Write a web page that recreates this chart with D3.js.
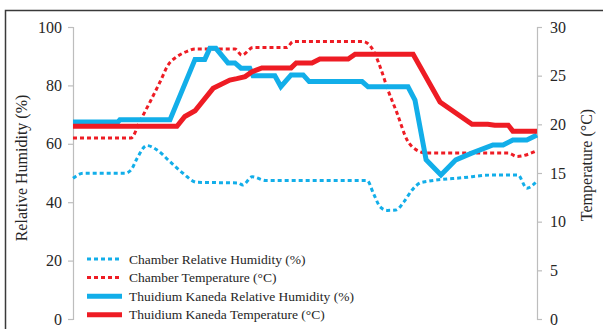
<!DOCTYPE html>
<html>
<head>
<meta charset="utf-8">
<script src="https://cdn.jsdelivr.net/npm/d3@7"></script>
<style>
  html, body { margin: 0; padding: 0; background: #fff; }
  svg { display: block; }
  text { font-family: "Liberation Serif", "Times New Roman", serif; fill: #262626; }
</style>
</head>
<body>
<svg id="chart" width="603" height="329"></svg>
<script>
// Elapsed time (0–100 % of the run) paired with the measured readings.
const chamberRHTime = [0, 2.2, 11.2, 12.5, 13.8, 15.9, 18.1, 20.9, 23.7, 26.7, 35.6, 36.6, 38.6, 41.6, 63.4, 64.7, 66.2, 67.7, 69.6, 71.3, 73.1, 74.8, 76.3, 84.1, 90.5, 95.9, 97.8, 100];
const chamberRH     = [48.2, 49.9, 49.9, 51.0, 55.0, 59.4, 57.9, 53.9, 49.9, 46.8, 46.6, 45.9, 48.7, 47.4, 47.4, 43.2, 38.4, 37.2, 37.3, 40.1, 44.2, 46.6, 47.1, 48.4, 49.3, 49.3, 44.8, 47.3];

const chamberTempTime = [0, 12.5, 14.4, 16.6, 18.8, 20.5, 22.4, 24.6, 26.3, 34.9, 36.4, 38.8, 46.1, 47.4, 62.5, 64.7, 66.2, 67.9, 69.8, 72.0, 73.9, 76.3, 93.8, 95.7, 100];
const chamberTemp     = [18.6, 18.6, 20.3, 22.3, 24.4, 26.1, 26.95, 27.5, 27.75, 27.75, 27.1, 27.9, 27.9, 28.5, 28.5, 27.6, 25.9, 23.5, 21.2, 18.4, 17.4, 17.05, 17.05, 16.7, 17.3];

const mossRHTime = [0, 9.7, 10.1, 20.9, 26.3, 28.4, 29.5, 30.8, 33.4, 34.9, 36.2, 38.1, 38.8, 43.5, 44.8, 47.0, 49.6, 50.9, 62.3, 63.6, 72.2, 73.7, 76.1, 79.3, 82.5, 85.8, 90.5, 92.7, 94.8, 97.8, 100];
const mossRH     = [67.5, 67.5, 68.2, 68.2, 88.9, 88.9, 92.7, 92.7, 87.7, 87.7, 85.9, 85.9, 83.3, 83.3, 79.6, 83.6, 83.6, 81.3, 81.3, 79.5, 79.5, 75.0, 54.5, 49.3, 54.5, 56.7, 59.6, 59.6, 61.3, 61.3, 63.0];

const mossTempTime = [0, 22.4, 24.1, 26.3, 30.2, 33.8, 35.3, 37.1, 38.6, 40.7, 47.0, 48.1, 51.5, 53.2, 59.3, 60.8, 73.3, 79.1, 86.0, 89.4, 90.9, 93.8, 94.8, 100];
const mossTemp     = [19.8, 19.8, 20.8, 21.4, 23.7, 24.55, 24.7, 24.9, 25.4, 25.8, 25.8, 26.3, 26.3, 26.7, 26.7, 27.2, 27.2, 22.3, 20.0, 20.0, 19.9, 19.9, 19.3, 19.3];

const rhTicks   = [0, 20, 40, 60, 80, 100];
const tempTicks = [0, 5, 10, 15, 20, 25, 30];

const seriesNames = [
  "Chamber Relative Humidity (%)",
  "Chamber Temperature (°C)",
  "Thuidium Kaneda Relative Humidity (%)",
  "Thuidium Kaneda Temperature (°C)"
];

const BLUE = "#12aee9";
const RED = "#ee1c24";

const svg = d3.select("#chart");

// outer frame
svg.append("rect")
  .attr("x", 5.5).attr("y", 10.5)
  .attr("width", 620).attr("height", 340)
  .attr("fill", "none").attr("stroke", "#3a3a3a").attr("stroke-width", 1.5);

const x = d3.scaleLinear().domain([0, 100]).range([73, 537]);
const yL = d3.scaleLinear().domain([0, 100]).range([319, 27]);
const yR = d3.scaleLinear().domain([0, 30]).range([319, 27]);

// axes
const axisL = svg.append("g").attr("transform", "translate(73,0)")
  .call(d3.axisLeft(yL).tickValues(rhTicks).tickSize(5).tickPadding(6).tickFormat(d3.format("d")));
const axisR = svg.append("g").attr("transform", "translate(537,0)")
  .call(d3.axisRight(yR).tickValues(tempTicks).tickSize(5).tickPadding(8).tickFormat(d3.format("d")));
[axisL, axisR].forEach(a => {
  a.select(".domain").attr("stroke", "#bdbdbd").attr("stroke-width", 1.2);
  a.selectAll(".tick line").attr("stroke", "#bdbdbd").attr("stroke-width", 1.2);
  a.selectAll(".tick text").style("font-family", "Liberation Serif, serif").style("font-size", "16px").attr("fill", "#262626");
});

// axis titles
svg.append("text")
  .attr("transform", "translate(27,168) rotate(-90)")
  .attr("text-anchor", "middle")
  .style("font-size", "16px")
  .text("Relative Humidity (%)");
svg.append("text")
  .attr("transform", "translate(592,165) rotate(-90)")
  .attr("text-anchor", "middle")
  .style("font-size", "16px")
  .text("Temperature (°C)");

const series = [
  { t: chamberRHTime, v: chamberRH, y: yL, color: BLUE, width: 3, dash: "4,3", curve: d3.curveMonotoneX },
  { t: chamberTempTime, v: chamberTemp, y: yR, color: RED, width: 3, dash: "4,3", curve: d3.curveMonotoneX },
  { t: mossRHTime, v: mossRH, y: yL, color: BLUE, width: 5, dash: null, curve: d3.curveLinear },
  { t: mossTempTime, v: mossTemp, y: yR, color: RED, width: 5, dash: null, curve: d3.curveLinear }
];

series.forEach(s => {
  const pts = s.t.map((t, i) => [t, s.v[i]]);
  const line = d3.line().x(d => x(d[0])).y(d => s.y(d[1])).curve(s.curve);
  svg.append("path")
    .attr("d", line(pts))
    .attr("fill", "none")
    .attr("stroke", s.color)
    .attr("stroke-width", s.width)
    .attr("stroke-dasharray", s.dash)
    .attr("stroke-linejoin", "miter");
});

// legend
const legend = svg.append("g");
seriesNames.forEach((name, i) => {
  const s = series[i];
  const yy = 259 + i * 18.6;
  legend.append("line")
    .attr("x1", 87).attr("x2", 122)
    .attr("y1", yy).attr("y2", yy)
    .attr("stroke", s.color)
    .attr("stroke-width", s.width)
    .attr("stroke-dasharray", s.dash);
  legend.append("text")
    .attr("x", 129).attr("y", yy + 4.5)
    .style("font-size", "13.5px")
    .text(name);
});
</script>
</body>
</html>
